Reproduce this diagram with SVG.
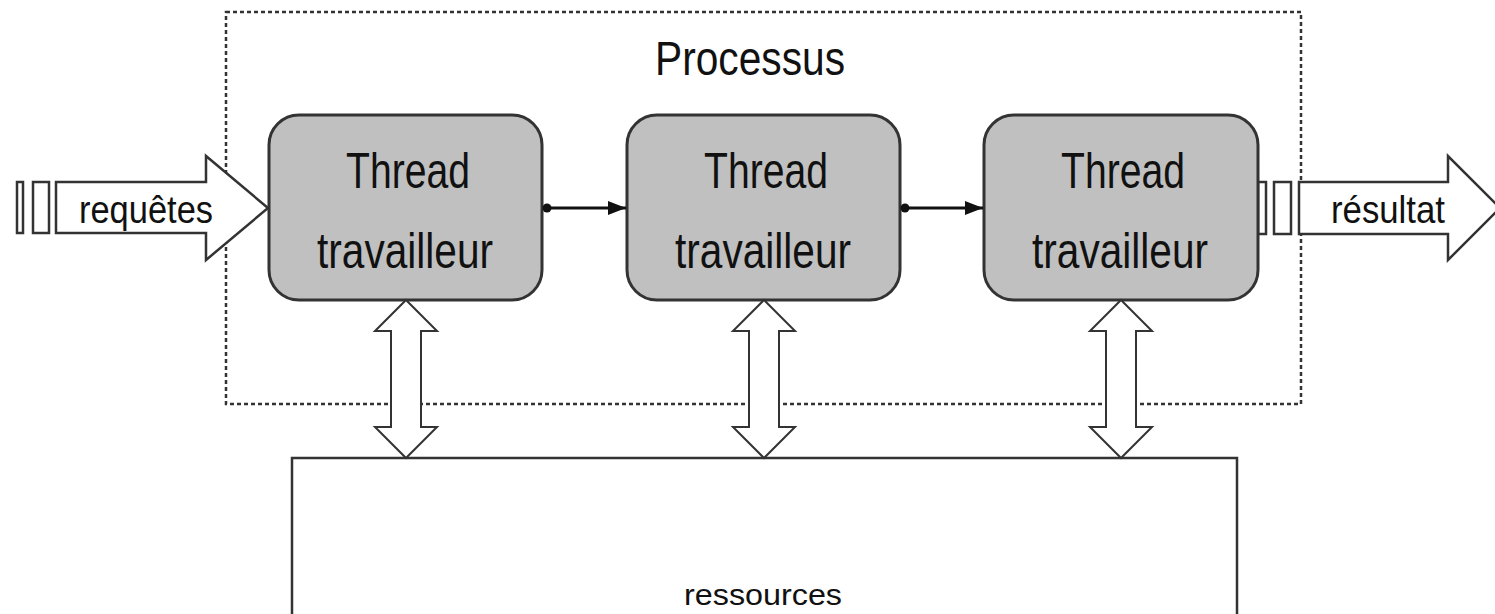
<svg xmlns="http://www.w3.org/2000/svg" width="1495" height="614" viewBox="0 0 1495 614">
  <style>
    .lbl { font-family: "Liberation Sans", Arial, sans-serif; fill: #111; }
    .thread { fill: #c0c0c0; stroke: #333; stroke-width: 3; }
    .outline { fill: #fff; stroke: #333; stroke-width: 2.5; stroke-linejoin: miter; }
    .link { stroke: #111; stroke-width: 3; fill: none; }
  </style>
  <defs>
    <marker id="head" markerWidth="18" markerHeight="14" refX="18" refY="7" orient="auto" markerUnits="userSpaceOnUse" viewBox="0 0 18 14">
      <path d="M0,0 L18,7 L0,14 Z" fill="#111"/>
    </marker>
    <marker id="dot" markerWidth="10" markerHeight="10" refX="5" refY="5" markerUnits="userSpaceOnUse" viewBox="0 0 10 10">
      <circle cx="5" cy="5" r="4.5" fill="#111"/>
    </marker>
    <!-- vertical two-way arrow, centred on x=0, from y=300 to y=458 -->
    <path id="dbl" d="M0,300 L31,331 L15,331 L15,427 L31,427 L0,458 L-31,427 L-15,427 L-15,331 L-31,331 Z"/>
  </defs>

  <!-- process boundary -->
  <g id="processus">
    <rect x="226" y="12" width="1075" height="392" fill="none" stroke="#333" stroke-width="2.5" stroke-dasharray="4 3"/>
    <text class="lbl" x="750" y="75" font-size="48" text-anchor="middle" textLength="190" lengthAdjust="spacingAndGlyphs">Processus</text>
  </g>

  <!-- shared resources -->
  <g id="ressources">
    <rect class="outline" x="292" y="458" width="945" height="170" stroke-width="3"/>
    <text class="lbl" x="763" y="605" font-size="30" text-anchor="middle" textLength="158" lengthAdjust="spacingAndGlyphs">ressources</text>
  </g>

  <!-- incoming requests -->
  <g id="requetes">
    <rect class="outline" x="17" y="182" width="6" height="51" stroke-width="2"/>
    <rect class="outline" x="33" y="182" width="16" height="51" stroke-width="2"/>
    <path class="outline" d="M56,182 L206,182 L206,156 L268,208 L206,260 L206,233 L56,233 Z" stroke-width="2"/>
    <text class="lbl" x="146" y="223" font-size="38" text-anchor="middle" textLength="134" lengthAdjust="spacingAndGlyphs">requêtes</text>
  </g>

  <!-- outgoing result -->
  <g id="resultat">
    <rect class="outline" x="1258" y="182" width="8" height="52" stroke-width="2"/>
    <rect class="outline" x="1274" y="182" width="17" height="52" stroke-width="2"/>
    <path class="outline" d="M1299,182 L1448,182 L1448,156 L1500,208 L1448,260 L1448,234 L1299,234 Z" stroke-width="2"/>
    <text class="lbl" x="1388" y="223" font-size="38" text-anchor="middle" textLength="114" lengthAdjust="spacingAndGlyphs">résultat</text>
  </g>

  <!-- worker threads -->
  <g id="thread1">
    <rect class="thread" x="269" y="115" width="273" height="185" rx="30" ry="30"/>
    <text class="lbl" x="408" y="188" font-size="50" text-anchor="middle" textLength="124" lengthAdjust="spacingAndGlyphs">Thread</text>
    <text class="lbl" x="405" y="268" font-size="50" text-anchor="middle" textLength="176" lengthAdjust="spacingAndGlyphs">travailleur</text>
  </g>
  <g id="thread2">
    <rect class="thread" x="627" y="115" width="273" height="185" rx="30" ry="30"/>
    <text class="lbl" x="766" y="188" font-size="50" text-anchor="middle" textLength="124" lengthAdjust="spacingAndGlyphs">Thread</text>
    <text class="lbl" x="763" y="268" font-size="50" text-anchor="middle" textLength="176" lengthAdjust="spacingAndGlyphs">travailleur</text>
  </g>
  <g id="thread3">
    <rect class="thread" x="984" y="115" width="274" height="185" rx="30" ry="30"/>
    <text class="lbl" x="1123" y="188" font-size="50" text-anchor="middle" textLength="124" lengthAdjust="spacingAndGlyphs">Thread</text>
    <text class="lbl" x="1120" y="268" font-size="50" text-anchor="middle" textLength="176" lengthAdjust="spacingAndGlyphs">travailleur</text>
  </g>

  <!-- connectors -->
  <g id="connectors">
    <line class="link" x1="547" y1="208" x2="626" y2="208" marker-start="url(#dot)" marker-end="url(#head)"/>
    <line class="link" x1="905" y1="208" x2="983" y2="208" marker-start="url(#dot)" marker-end="url(#head)"/>
    <use href="#dbl" x="406" class="outline" style="stroke-width:2"/>
    <use href="#dbl" x="764" class="outline" style="stroke-width:2"/>
    <use href="#dbl" x="1121" class="outline" style="stroke-width:2"/>
  </g>
</svg>
